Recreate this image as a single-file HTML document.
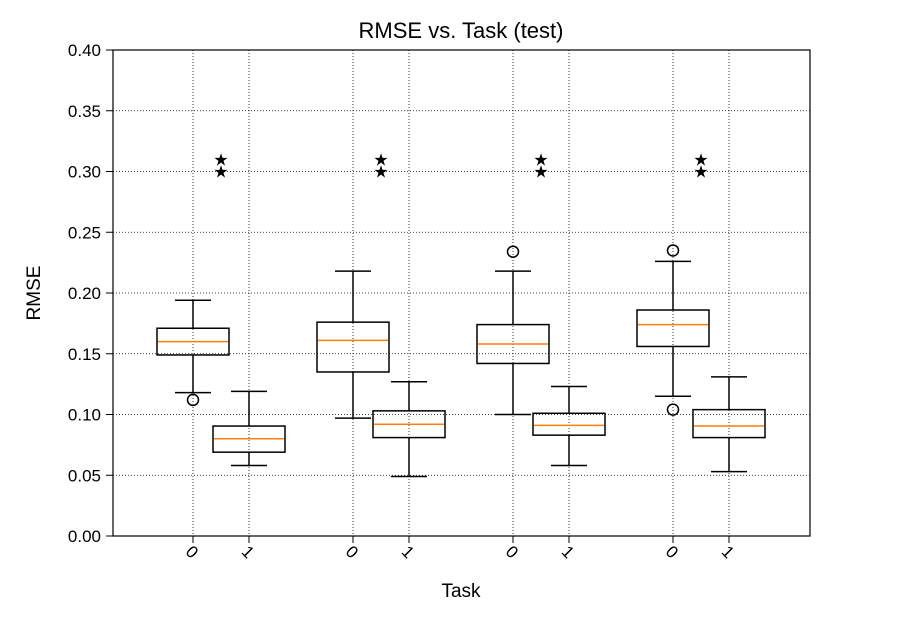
<!DOCTYPE html>
<html><head><meta charset="utf-8"><style>
body{margin:0;background:#fff;}
svg text{font-family:"Liberation Sans","DejaVu Sans",sans-serif;fill:#000;}
</style></head><body>
<svg id="chart" width="900" height="630" viewBox="0 0 900 630" xmlns="http://www.w3.org/2000/svg">
<rect width="900" height="630" fill="#fff"/>
<g id="grid"></g>
<g id="marks"></g>
<rect x="113" y="50" width="697" height="486" fill="none" stroke="#000" stroke-width="1.2"/>
<g id="axes"></g>
<text x="461" y="38" text-anchor="middle" font-size="22">RMSE vs. Task (test)</text>
<text x="461" y="597" text-anchor="middle" font-size="19">Task</text>
<text transform="translate(40,293) rotate(-90)" text-anchor="middle" font-size="19">RMSE</text>
</svg>
<script>
const positions = [193,249,353,409,513,569,673,729]; // category x centers (layout)
const taskLabels = ["0","1","0","1","0","1","0","1"];
const whiskerLow = [0.118,0.058,0.097,0.049,0.100,0.058,0.115,0.053];
const q1 = [0.149,0.069,0.135,0.081,0.142,0.083,0.156,0.081];
const median = [0.160,0.080,0.161,0.092,0.158,0.091,0.174,0.0905];
const q3 = [0.171,0.0905,0.176,0.103,0.174,0.101,0.186,0.104];
const whiskerHigh = [0.194,0.119,0.218,0.127,0.218,0.123,0.226,0.131];
const outliers = [[0.112],[],[],[],[0.234],[],[0.235,0.104],[]];
const starValues = [[0.30,0.31],[0.30,0.31],[0.30,0.31],[0.30,0.31]];
const yTicks = [0,0.05,0.10,0.15,0.20,0.25,0.30,0.35,0.40];

const NS="http://www.w3.org/2000/svg";
const y0=536, y1=50, vmax=0.4;
function ys(v){return y0-(v/vmax)*(y0-y1);}
function mk(parent,tag,attrs){const e=document.createElementNS(NS,tag);for(const k in attrs)e.setAttribute(k,attrs[k]);parent.appendChild(e);return e;}
const grid=document.getElementById('grid'),marks=document.getElementById('marks'),axes=document.getElementById('axes');

yTicks.forEach(t=>{
  const y=ys(t);
  const g=mk(grid,'line',{x1:113,x2:810,y1:y,y2:y,stroke:'#000','stroke-width':0.8,'stroke-dasharray':'1,2'});
  
  
  const tk=mk(axes,'line',{x1:106,x2:113,y1:y,y2:y,stroke:'#000','stroke-width':1});
  
  
  const tx=mk(axes,'text',{x:101,y:y+6,'text-anchor':'end','font-size':17});
  tx.textContent=t.toFixed(2);
  
  
});

positions.forEach((x,i)=>{
  const g=mk(grid,'line',{x1:x,x2:x,y1:50,y2:536,stroke:'#000','stroke-width':0.8,'stroke-dasharray':'1,2'});
  
  
  const tk=mk(axes,'line',{x1:x,x2:x,y1:536,y2:543,stroke:'#000','stroke-width':1});
  
  
  const tx=mk(axes,'text',{transform:`translate(${x-5},${556}) rotate(45)`,'text-anchor':'middle','font-size':17});
  tx.textContent=taskLabels[i];
  
  

  const hw=36, cw=18;
  const box=mk(marks,'g',{});
  
  
  const st={stroke:'#000','stroke-width':1.5,fill:'none'};
  mk(box,'line',Object.assign({x1:x,x2:x,y1:ys(q3[i]),y2:ys(whiskerHigh[i])},st));
  mk(box,'line',Object.assign({x1:x,x2:x,y1:ys(q1[i]),y2:ys(whiskerLow[i])},st));
  mk(box,'line',Object.assign({x1:x-cw,x2:x+cw,y1:ys(whiskerHigh[i]),y2:ys(whiskerHigh[i])},st));
  mk(box,'line',Object.assign({x1:x-cw,x2:x+cw,y1:ys(whiskerLow[i]),y2:ys(whiskerLow[i])},st));
  mk(box,'rect',Object.assign({x:x-hw,y:ys(q3[i]),width:2*hw,height:ys(q1[i])-ys(q3[i])},st));
  mk(box,'line',{x1:x-hw+1,x2:x+hw-1,y1:ys(median[i]),y2:ys(median[i]),stroke:'#ff7f0e','stroke-width':1.5});
  outliers[i].forEach(v=>{
    const c=mk(box,'circle',{cx:x,cy:ys(v),r:5.5,fill:'none',stroke:'#000','stroke-width':1.5});
    
    
  });
});

starValues.forEach((vals,gi)=>{
  const x=(positions[2*gi]+positions[2*gi+1])/2;
  vals.forEach(v=>{
    const s=mk(marks,'text',{x:x,y:ys(v)+6,'text-anchor':'middle','font-size':17});
    s.textContent='★';
    
    
  });
});
</script>
</body></html>
